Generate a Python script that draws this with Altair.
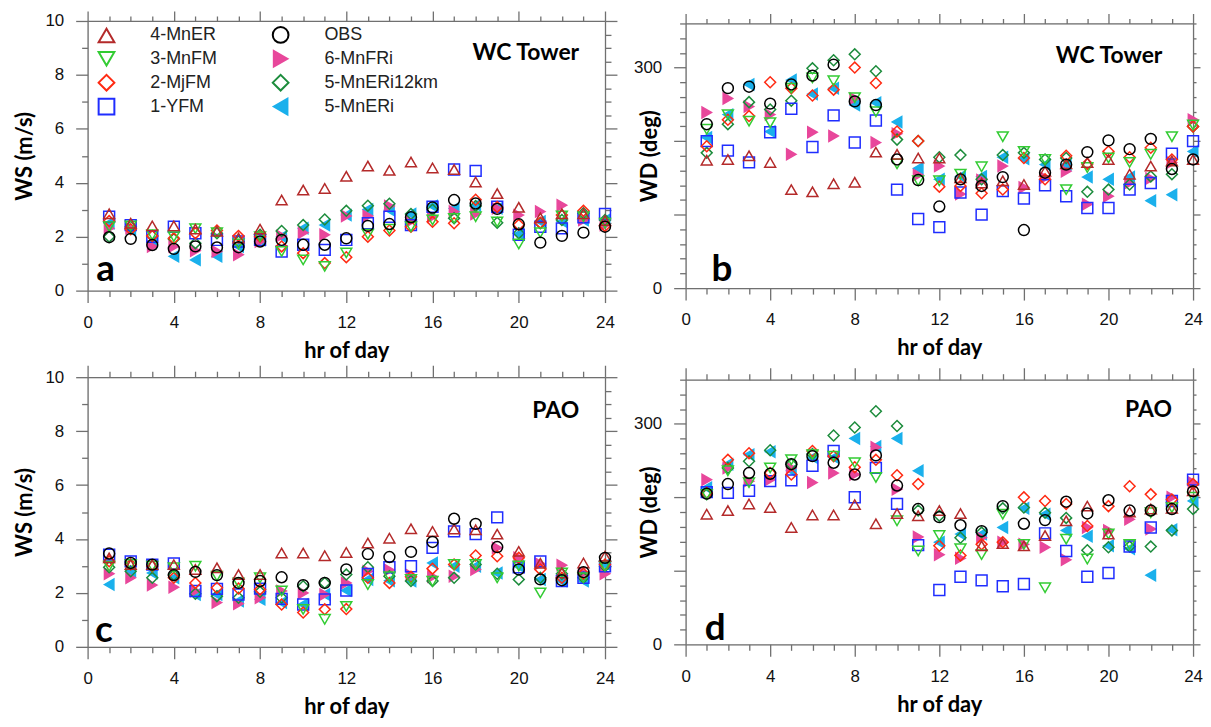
import altair as alt
import pandas as pd

HOURS = list(range(1, 25))

# legend order (column-major in a 2-column legend)
SERIES_NAMES = ["4-MnER", "3-MnFM", "2-MjFM", "1-YFM", "OBS", "6-MnFRi", "5-MnERi12km", "5-MnERi"]
DRAW_ORDER = ["5-MnERi", "6-MnFRi", "5-MnERi12km", "1-YFM", "2-MjFM", "3-MnFM", "4-MnER", "OBS"]
SHAPE_RANGE = ["triangle-up", "triangle-down", "diamond", "square", "circle", "triangle-right", "diamond", "triangle-left"]
STROKE_RANGE = ["#b42a2a", "#33cc33", "#ff2a12", "#1f2dff", "#000000", "#e8479b", "#1c8c3c", "#1ab0ec"]
FILL_RANGE = ["transparent", "transparent", "transparent", "transparent", "transparent", "#e8479b", "transparent", "#1ab0ec"]

# ---------------- panel a : WS, WC Tower ----------------
ws_wc_4MnER = [2.85, 2.5, 2.4, 2.4, 2.28, 2.2, 1.95, 2.28, 3.36, 3.73, 3.79, 4.24, 4.62, 4.46, 4.77, 4.55, 4.49, 4.03, 3.6, 3.09, 2.7, 2.85, 2.85, 2.6]
ws_wc_3MnFM = [2.37, 2.4, 2.07, 2.0, 2.3, 2.15, 1.73, 2.0, 1.45, 1.14, 0.9, 1.4, 2.09, 2.28, 2.37, 2.62, 2.68, 2.74, 2.55, 1.73, 2.15, 2.77, 2.74, 2.5]
ws_wc_2MjFM = [2.58, 2.28, 2.03, 1.94, 2.13, 2.23, 2.03, 2.0, 1.64, 1.39, 1.02, 1.24, 2.0, 2.23, 2.37, 2.55, 2.5, 3.37, 3.1, 2.44, 2.52, 2.8, 2.96, 2.4]
ws_wc_1YFM = [2.74, 2.43, 2.0, 2.37, 2.13, 1.88, 1.82, 1.88, 1.45, 1.7, 1.51, 1.88, 2.5, 2.74, 2.43, 3.11, 4.49, 4.44, 3.11, 2.07, 2.37, 2.31, 2.72, 2.84]
ws_wc_OBS = [1.98, 1.92, 1.69, 1.55, 1.64, 1.6, 1.61, 1.82, 1.88, 1.7, 1.7, 1.94, 2.4, 2.47, 2.72, 3.08, 3.36, 3.23, 3.03, 2.46, 1.78, 2.03, 2.15, 2.37]
ws_wc_6MnFRi = [2.31, 2.31, 1.64, 1.64, 1.48, 1.45, 1.33, 1.82, 2.03, 2.15, 2.07, 2.77, 2.77, 3.14, 2.57, 2.74, 2.93, 2.84, 3.05, 2.8, 2.93, 3.17, 2.62, 2.43]
ws_wc_5MnERi12km = [2.0, 2.37, 2.03, 1.91, 1.76, 2.13, 1.82, 2.07, 2.21, 2.43, 2.64, 2.96, 3.15, 3.22, 2.84, 3.0, 2.68, 3.14, 2.52, 2.13, 2.5, 2.62, 2.87, 2.62]
ws_wc_5MnERi = [2.5, 2.25, 1.82, 1.27, 1.14, 1.27, 1.64, 1.88, 2.0, 2.31, 2.43, 2.8, 3.01, 2.99, 2.84, 3.14, 3.05, 3.17, 3.05, 2.1, 2.56, 2.56, 2.62, 2.62]

# ---------------- panel b : WD, WC Tower ----------------
wd_wc_4MnER = [174, 175, 180, 171, 134, 131, 142, 144, 185, 182, 177, 177, 150, 143, 146, 141, 159, 169, 171, 175, 155, 166, 173, 175]
wd_wc_3MnFM = [216, 236, 227, 225, 272, 286, 282, 259, 240, 169, 146, 146, 155, 165, 206, 186, 175, 134, 164, 177, 171, 182, 206, 222]
wd_wc_2MjFM = [193, 229, 234, 280, 272, 262, 270, 300, 279, 213, 200, 138, 139, 129, 134, 177, 148, 180, 169, 186, 178, 191, 175, 220]
wd_wc_1YFM = [200, 187, 171, 212, 244, 192, 235, 198, 228, 134, 94, 83, 130, 100, 132, 122, 140, 125, 109, 109, 134, 143, 183, 200]
wd_wc_OBS = [223, 272, 274, 251, 277, 289, 304, 254, 249, 175, 147, 111, 148, 139, 151, 79, 157, 168, 185, 201, 189, 203, 162, 175]
wd_wc_6MnFRi = [239, 258, 247, 236, 182, 212, 207, 258, 198, 210, 154, 166, 128, 147, 166, 137, 150, 159, 114, 125, 143, 149, 171, 229]
wd_wc_5MnERi12km = [184, 223, 253, 243, 255, 299, 310, 318, 295, 202, 200, 178, 181, 148, 181, 184, 175, 177, 131, 134, 141, 152, 155, 220]
wd_wc_5MnERi = [205, 236, 277, 213, 283, 264, 272, 249, 252, 226, 163, 148, 152, 152, 178, 176, 168, 168, 151, 148, 151, 119, 127, 186]

# ---------------- panel c : WS, PAO ----------------
ws_pao_4MnER = [3.3, 3.05, 3.05, 3.05, 2.87, 2.93, 2.68, 2.68, 3.48, 3.48, 3.38, 3.5, 3.85, 4.03, 4.38, 4.28, 4.37, 4.34, 4.18, 3.54, 3.1, 2.74, 3.11, 3.36]
ws_pao_3MnFM = [2.99, 3.05, 2.99, 2.93, 2.99, 2.62, 2.37, 2.56, 2.07, 1.39, 1.02, 1.5, 2.31, 2.6, 2.5, 2.43, 3.05, 3.05, 2.56, 3.0, 2.0, 2.74, 2.56, 2.99]
ws_pao_2MjFM = [3.17, 3.05, 2.99, 2.56, 2.37, 2.19, 2.16, 2.13, 1.57, 1.27, 1.39, 1.4, 2.56, 2.37, 2.6, 2.9, 3.05, 3.39, 3.36, 3.3, 2.87, 2.56, 2.71, 3.05]
ws_pao_1YFM = [3.42, 3.17, 3.05, 3.09, 2.07, 2.15, 1.94, 2.16, 1.78, 1.57, 1.76, 2.09, 2.7, 2.95, 2.99, 3.67, 4.28, 4.18, 4.8, 2.95, 3.17, 2.44, 2.56, 2.99]
ws_pao_OBS = [3.46, 3.11, 3.05, 2.66, 2.78, 2.66, 2.37, 2.44, 2.58, 2.29, 2.37, 2.87, 3.44, 3.33, 3.52, 3.89, 4.75, 4.56, 3.7, 2.87, 2.5, 2.47, 2.77, 3.3]
ws_pao_6MnFRi = [2.71, 2.56, 2.29, 2.21, 2.07, 1.64, 1.6, 1.82, 2.07, 2.0, 1.94, 2.37, 2.8, 2.85, 2.66, 2.6, 2.62, 2.87, 3.67, 3.3, 3.08, 3.03, 2.74, 2.71]
ws_pao_5MnERi12km = [2.95, 2.8, 2.56, 2.66, 1.97, 1.88, 1.82, 2.04, 1.82, 2.25, 2.37, 2.68, 2.95, 2.62, 2.44, 2.44, 2.56, 3.05, 2.71, 2.5, 2.56, 2.71, 2.56, 2.99]
ws_pao_5MnERi = [2.31, 2.8, 2.74, 2.56, 1.94, 1.94, 1.7, 1.76, 1.64, 1.57, 1.94, 2.09, 2.5, 2.45, 2.44, 3.11, 2.99, 2.99, 2.74, 2.99, 2.5, 2.44, 2.44, 3.05]

# ---------------- panel d : WD, PAO ----------------
wd_pao_4MnER = [177, 182, 191, 186, 159, 176, 176, 190, 164, 178, 175, 182, 178, 134, 137, 134, 148, 168, 188, 150, 180, 184, 185, 209]
wd_pao_3MnFM = [204, 236, 220, 240, 251, 258, 256, 247, 227, 168, 127, 148, 130, 122, 177, 136, 77, 143, 116, 150, 136, 179, 186, 200]
wd_pao_2MjFM = [206, 251, 260, 233, 231, 263, 256, 241, 251, 230, 218, 134, 121, 136, 139, 200, 195, 191, 161, 188, 215, 204, 197, 218]
wd_pao_1YFM = [207, 206, 209, 222, 223, 243, 263, 200, 240, 191, 135, 74, 92, 87, 79, 82, 151, 127, 92, 97, 133, 159, 195, 224]
wd_pao_OBS = [205, 218, 233, 232, 245, 256, 247, 231, 257, 216, 184, 173, 162, 154, 188, 164, 169, 194, 178, 196, 182, 182, 184, 208]
wd_pao_6MnFRi = [224, 240, 222, 224, 240, 220, 233, 231, 268, 211, 146, 122, 117, 145, 139, 136, 132, 115, 159, 155, 170, 157, 200, 220]
wd_pao_5MnERi12km = [204, 240, 249, 264, 245, 259, 284, 295, 317, 297, 182, 175, 145, 152, 185, 186, 179, 172, 128, 132, 133, 133, 155, 184]
wd_pao_5MnERi = [213, 245, 258, 262, 236, 254, 254, 280, 269, 280, 236, 139, 150, 150, 159, 185, 177, 155, 147, 134, 130, 94, 156, 195]

X_TICKS = list(range(0, 25))
WS_TICKS = [i * 0.5 for i in range(21)]
WD_TICKS = list(range(0, 361, 20))

FRAME = "#707070"
LABEL_FONT = "Liberation Sans"
TITLE_FONT = "Lato"


def axis(orient, values, major_test, major_len, minor_len, label_test=None,
         title=None, title_padding=4, label_padding=12):
    kw = dict(orient=orient, values=values, grid=False, domain=True,
              domainColor=FRAME, domainWidth=1.3, ticks=True, tickColor=FRAME,
              tickWidth=1.3,
              tickSize={"condition": {"test": major_test, "value": major_len},
                        "value": minor_len})
    if label_test:
        kw.update(labels=True, labelExpr=f"({label_test}) ? datum.label : ''",
                  format="d", labelFont=LABEL_FONT, labelFontSize=17,
                  labelColor="#111111", labelPadding=label_padding,
                  labelOverlap=False, labelFlush=False)
    else:
        kw.update(labels=False)
    if title:
        kw.update(title=title, titleFont=TITLE_FONT, titleFontSize=22,
                  titleFontWeight="bold", titleColor="#000000",
                  titlePadding=title_padding)
    else:
        kw.update(title=None)
    return alt.Axis(**kw)


def panel(series, ymax, yticks, ymajor, ylabel_test, ytitle, ytitle_pad,
          width, height, letter, letter_pos, station, station_pos,
          legend, top_len, right_len):
    rows = []
    for name in DRAW_ORDER:
        for h, v in zip(HOURS, series[name]):
            rows.append({"hour": h, "value": v, "series": name})
    df = pd.DataFrame(rows)

    xs = alt.Scale(domain=[0, 24], nice=False, zero=False)
    ys = alt.Scale(domain=[0, ymax], nice=False, zero=False)

    stroke = alt.Stroke("series:N", scale=alt.Scale(domain=SERIES_NAMES, range=STROKE_RANGE), legend=legend)
    fill = alt.Fill("series:N", scale=alt.Scale(domain=SERIES_NAMES, range=FILL_RANGE), legend=legend)
    shape = alt.Shape("series:N", scale=alt.Scale(domain=SERIES_NAMES, range=SHAPE_RANGE), legend=legend)

    pts = alt.Chart(df).mark_point(filled=False, opacity=1, size=120, strokeWidth=1.5).encode(
        x=alt.X("hour:Q", scale=xs,
                axis=axis("bottom", X_TICKS, "datum.value % 4 === 0", 12, 6,
                          label_test="datum.value % 4 === 0", title="hr of day",
                          title_padding=10)),
        y=alt.Y("value:Q", scale=ys,
                axis=axis("left", yticks, ymajor, 12, 6, label_test=ylabel_test,
                          title=ytitle, title_padding=ytitle_pad)),
        stroke=stroke, fill=fill, shape=shape,
    )
    mirror = alt.Chart(df).mark_point(opacity=0).encode(
        x=alt.X("hour:Q", scale=xs,
                axis=axis("top", X_TICKS, "datum.value % 4 === 0", top_len, top_len // 2)),
        y=alt.Y("value:Q", scale=ys,
                axis=axis("right", yticks, ymajor, right_len, right_len // 2)),
    )
    letter_df = pd.DataFrame({"hour": [letter_pos[0]], "value": [letter_pos[1]], "label": [letter]})
    station_df = pd.DataFrame({"hour": [station_pos[0]], "value": [station_pos[1]], "label": [station]})
    lt = alt.Chart(letter_df).mark_text(align="left", baseline="alphabetic", font=TITLE_FONT,
                                        fontWeight="bold", fontSize=37, color="#000000").encode(
        x=alt.X("hour:Q", axis=None), y=alt.Y("value:Q", axis=None), text="label:N")
    st = alt.Chart(station_df).mark_text(align="right", baseline="alphabetic", font=TITLE_FONT,
                                         fontWeight="bold", fontSize=23, color="#000000").encode(
        x=alt.X("hour:Q", axis=None), y=alt.Y("value:Q", axis=None), text="label:N")
    return alt.layer(pts, mirror, lt, st).resolve_axis(
        x="independent", y="independent").properties(width=width, height=height)


LEGEND = alt.Legend(title=None, orient="none", legendX=10, legendY=5, columns=2,
                    columnPadding=52, rowPadding=0, symbolSize=250, symbolStrokeWidth=2,
                    labelFont=LABEL_FONT, labelFontSize=18, labelColor="#222222",
                    labelOffset=35, padding=0, labelLimit=300)

WS_MAJOR = "datum.value % 2 === 0"
WD_MAJOR = "datum.value % 100 === 0"
WD_LABEL = "datum.value === 0 || datum.value === 300"

NAMES = ["4-MnER", "3-MnFM", "2-MjFM", "1-YFM", "OBS", "6-MnFRi", "5-MnERi12km", "5-MnERi"]

pa = panel(dict(zip(NAMES, [ws_wc_4MnER, ws_wc_3MnFM, ws_wc_2MjFM, ws_wc_1YFM, ws_wc_OBS,
                            ws_wc_6MnFRi, ws_wc_5MnERi12km, ws_wc_5MnERi])),
           10, WS_TICKS, WS_MAJOR, WS_MAJOR, "WS (m/s)", 8, 520, 271,
           "a", (0.4, 0.34), "WC Tower", (22.8, 8.57), LEGEND, 10, 12)
pb = panel(dict(zip(NAMES, [wd_wc_4MnER, wd_wc_3MnFM, wd_wc_2MjFM, wd_wc_1YFM, wd_wc_OBS,
                            wd_wc_6MnFRi, wd_wc_5MnERi12km, wd_wc_5MnERi])),
           360, WD_TICKS, WD_MAJOR, WD_LABEL, "WD (deg)", -28, 510, 266,
           "b", (1.22, 10), "WC Tower", (22.55, 306), None, 10, 7)
pc = panel(dict(zip(NAMES, [ws_pao_4MnER, ws_pao_3MnFM, ws_pao_2MjFM, ws_pao_1YFM, ws_pao_OBS,
                            ws_pao_6MnFRi, ws_pao_5MnERi12km, ws_pao_5MnERi])),
           10, WS_TICKS, WS_MAJOR, WS_MAJOR, "WS (m/s)", 8, 520, 271,
           "c", (0.34, 0.17), "PAO", (22.8, 8.5), None, 12, 12)
pd_ = panel(dict(zip(NAMES, [wd_pao_4MnER, wd_pao_3MnFM, wd_pao_2MjFM, wd_pao_1YFM, wd_pao_OBS,
                             wd_pao_6MnFRi, wd_pao_5MnERi12km, wd_pao_5MnERi])),
            360, WD_TICKS, WD_MAJOR, WD_LABEL, "WD (deg)", -28, 510, 266,
            "d", (0.9, 5.4), "PAO", (23.0, 309), None, 12, 7)

RES = dict(stroke="independent", fill="independent", shape="independent")
row1 = alt.hconcat(pa, pb, spacing=14, center=True).resolve_scale(**RES)
row2 = alt.hconcat(pc, pd_, spacing=14, center=True).resolve_scale(**RES)
chart = alt.vconcat(row1, row2, spacing=2).resolve_scale(**RES).properties(
    padding={"left": 5, "top": 0, "right": 0, "bottom": 0}
).configure_view(strokeWidth=0).configure(background="white")

chart.save("out.html", embed_options={"renderer": "svg", "actions": False})
